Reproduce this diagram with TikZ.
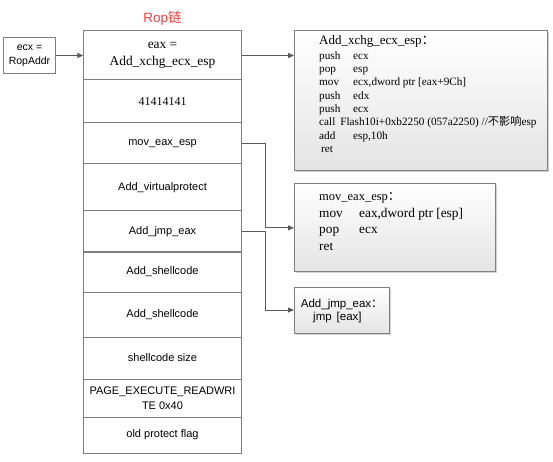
\documentclass[tikz,border=0pt]{standalone}
\usepackage{fontspec}
\setmainfont{Liberation Serif}
\setsansfont{Liberation Sans}
\newfontfamily\cjk{Noto Sans CJK SC}
\usepackage{tikz}
\usetikzlibrary{arrows.meta,shadows}
\usepackage{xcolor}
\definecolor{linecol}{HTML}{7F7F7F}
\definecolor{arrcol}{HTML}{595959}
\definecolor{titlecol}{HTML}{F03C3C}
\definecolor{boxbot}{HTML}{E4E4E4}

\begin{document}
\begin{tikzpicture}[x=1bp,y=-1bp,
          cell/.style={draw=linecol,line width=1bp,minimum width=158.4bp,inner sep=0pt,outer sep=0pt,align=center,
            font=\sffamily\fontsize{11bp}{15.5bp}\selectfont},
          conn/.style={draw=arrcol,line width=1bp,-{Triangle[length=6bp,width=5bp]}},
          codebox/.style={draw=linecol,line width=1bp,top color=white,bottom color=boxbot,
            drop shadow={shadow xshift=1.5bp,shadow yshift=-1.5bp,fill=black!30,opacity=0.6},
            inner sep=0pt,outer sep=0pt,anchor=north west},
          code/.style={inner sep=0pt,anchor=north west,align=left}
        ]
        \useasboundingbox (0,0) rectangle (553,462);
        \node[anchor=base,inner sep=0pt,text=titlecol,font=\sffamily\fontsize{13.5bp}{16bp}\selectfont] (title) at (162.5,22.5) {Rop{\cjk 链}};
        \node[cell,minimum height=49bp,font=\rmfamily\fontsize{13.4bp}{17bp}\selectfont] (c1) at (162.5,55.5) {eax =\\Add\_xchg\_ecx\_esp};
        \node[cell,minimum height=43bp,font=\rmfamily\fontsize{12bp}{15bp}\selectfont] (c2) at (162.5,101.5) {41414141};
        \node[cell,minimum height=41bp] (c3) at (162.5,143.5) {mov\_eax\_esp};
        \node[cell,minimum height=47bp] (c4) at (162.5,187.5) {Add\_virtualprotect};
        \node[cell,minimum height=41bp] (c5) at (162.5,231.5) {Add\_jmp\_eax};
        \node[cell,minimum height=40bp] (c6) at (162.5,272) {Add\_shellcode};
        \node[cell,minimum height=45bp] (c7) at (162.5,314.5) {Add\_shellcode};
        \node[cell,minimum height=42bp] (c8) at (162.5,358) {shellcode size};
        \node[cell,minimum height=38bp] (c9) at (162.5,398) {PAGE\_EXECUTE\_READWRI\\TE 0x40};
        \node[cell,minimum height=36bp] (c10) at (162.5,435) {old protect flag};
        \node[draw=linecol,line width=1bp,minimum width=52.4bp,minimum height=35.6bp,inner sep=0pt,outer sep=0pt,align=center,
          font=\sffamily\fontsize{10.5bp}{14bp}\selectfont] (ecx) at (29.5,55.5) {ecx =\\RopAddr};
        \node[codebox,minimum width=253.7bp,minimum height=140bp] (xchgbox) at (294,31) {};
        \node[codebox,minimum width=201bp,minimum height=87.7bp] (movbox) at (294,184) {};
        \node[codebox,minimum width=95bp,minimum height=46bp] (jmpbox) at (294,287) {};
        \node[anchor=base west,inner sep=0pt,font=\rmfamily\fontsize{13bp}{15bp}\selectfont] (xchgtitle) at (319,45) {Add\_xchg\_ecx\_esp{\cjk ：}};
        \node[code,font=\rmfamily\fontsize{11.2bp}{13.33bp}\selectfont] (xchgcode) at (319,49.7) {%
          \begin{tabular}{@{}p{34bp}@{}l@{}}
            push & ecx\\
            pop & esp\\
            mov & ecx,dword ptr [eax+9Ch]\\
            push & edx\\
            push & ecx\\
            \multicolumn{2}{@{}l@{}}{call\hspace{5bp}Flash10i+0xb2250 (057a2250) //{\cjk 不影响}esp}\\
            add & esp,10h\\
            \multicolumn{2}{@{}l@{}}{\hspace{2bp}ret}
          \end{tabular}};
        \node[code,font=\rmfamily\fontsize{13.3bp}{16.5bp}\selectfont] (movcode) at (319,189.25) {%
          \begin{tabular}{@{}p{40bp}@{}l@{}}
            \multicolumn{2}{@{}l@{}}{\fontsize{12.5bp}{16.5bp}\selectfont mov\_eax\_esp{\cjk ：}}\\
            mov & eax,dword ptr [esp]\\
            pop & ecx\\
            \multicolumn{2}{@{}l@{}}{ret}
          \end{tabular}};
        \node[anchor=base west,inner sep=0pt,font=\sffamily\fontsize{11.5bp}{14bp}\selectfont] (jmptitle) at (300.7,307.3) {Add\_jmp\_eax{\cjk ：}};
        \node[anchor=base west,inner sep=0pt,font=\sffamily\fontsize{11.5bp}{14bp}\selectfont] (jmpcode) at (313,320.5) {jmp\hspace{5bp}[eax]};
        \draw[conn] (ecx) -- (c1);
        \draw[conn] (c1.east) -- (c1.east -| xchgbox.west);
        \draw[conn] (c3.east) -- ++(24,0) |- (movbox.west);
        \draw[conn] (c5.east) -- ++(24,0) |- (jmpbox.west);
      \end{tikzpicture}
\end{document}
